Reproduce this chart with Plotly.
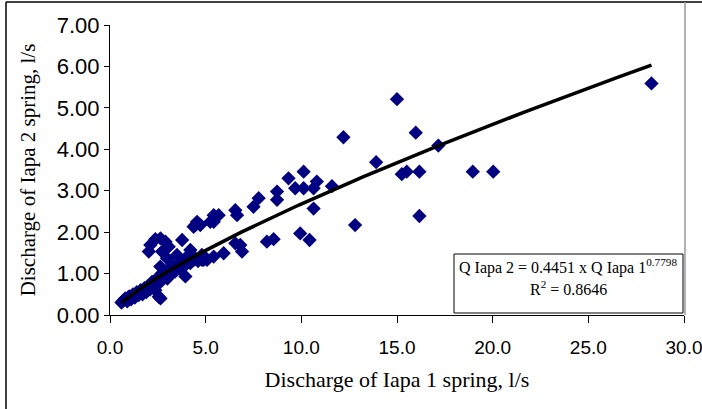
import numpy as np
import plotly.graph_objects as go

# Observed discharges (l/s)
q_iapa1 = [0.6, 0.7, 0.8, 0.9, 1.0, 1.1, 1.2, 1.3, 1.4, 1.5, 1.6, 1.7, 1.8, 1.9, 2.0, 2.1,
           2.2, 2.3, 2.4, 2.5, 2.6, 2.7, 2.8, 2.9, 3.0, 3.1, 3.2, 3.3, 3.4, 3.5, 3.6, 3.7,
           3.8, 3.9, 4.0, 4.2, 4.4, 4.6, 4.8, 5.0,
           2.03, 2.11, 2.37, 2.64, 2.9, 3.07, 2.72, 2.37, 2.64, 2.55, 2.63, 2.98, 3.5, 4.2,
           3.77, 4.37, 4.55, 4.46, 3.85, 3.94, 4.03, 4.37, 4.89,
           5.42, 5.68, 5.42, 5.24, 4.72, 6.55, 6.64, 7.5, 7.77, 8.73, 8.73, 9.33,
           5.94, 5.42, 5.07, 4.81, 6.81, 6.9, 6.55, 8.2, 8.55, 9.94, 10.43,
           10.12, 9.68, 10.12, 10.64, 10.81, 11.6, 10.64, 12.81, 13.91, 12.2,
           15.0, 15.98, 17.16, 15.25, 15.51, 16.17, 18.96, 20.03, 16.17, 28.3]
q_iapa2 = [0.30, 0.35, 0.40, 0.33, 0.45, 0.38, 0.50, 0.42, 0.55, 0.48, 0.60, 0.50, 0.65, 0.55, 0.70, 0.62,
           0.80, 0.72, 0.85, 0.90, 0.78, 1.00, 0.95, 1.05, 0.88, 1.10, 1.00, 1.20, 1.05, 1.15, 1.25, 1.10,
           1.30, 1.20, 1.35, 1.25, 1.40, 1.30, 1.45, 1.38,
           1.53, 1.69, 1.83, 1.85, 1.77, 1.65, 1.53, 0.60, 0.40, 0.44, 1.17, 1.37, 1.45, 1.57,
           1.81, 2.13, 2.25, 2.17, 1.17, 0.93, 1.41, 1.33, 1.33,
           2.41, 2.41, 2.25, 2.25, 2.17, 2.53, 2.41, 2.61, 2.82, 2.98, 2.78, 3.30,
           1.49, 1.41, 1.33, 1.33, 1.69, 1.53, 1.73, 1.77, 1.83, 1.97, 1.81,
           3.46, 3.06, 3.06, 3.06, 3.22, 3.11, 2.57, 2.17, 3.69, 4.29,
           5.21, 4.40, 4.09, 3.40, 3.46, 3.46, 3.46, 3.46, 2.39, 5.59]

# Power trendline shown on the chart
coef_a = 0.4451
coef_b = 0.7798

x_ticks = [0, 5, 10, 15, 20, 25, 30]
y_ticks = [0, 1, 2, 3, 4, 5, 6, 7]

xt = np.linspace(min(q_iapa1), max(q_iapa1), 200)
yt = coef_a * xt ** coef_b

fig = go.Figure()
fig.add_trace(go.Scatter(x=q_iapa1, y=q_iapa2, mode="markers",
                         marker=dict(symbol="diamond", size=11, color="#000080",
                                     line=dict(width=0)),
                         showlegend=False))
fig.add_trace(go.Scatter(x=xt, y=yt, mode="lines",
                         line=dict(color="black", width=3.5), showlegend=False))

W, H = 702, 409
L, R, T, B = 110, 18, 25, 94
pw, ph = W - L - R, H - T - B

def px(x):
    return (x - L) / pw

def py(y):
    return (H - B - y) / ph

shapes = [
    # outer frame
    dict(type="line", xref="paper", yref="paper", x0=px(6), x1=px(702), y0=py(2), y1=py(2),
         line=dict(color="black", width=1.5)),
    dict(type="line", xref="paper", yref="paper", x0=px(6), x1=px(6), y0=py(2), y1=py(409),
         line=dict(color="black", width=1.5)),
    dict(type="line", xref="paper", yref="paper", x0=px(685), x1=px(685), y0=py(2), y1=py(315),
         line=dict(color="#999999", width=1.5)),
    # equation box
    dict(type="rect", xref="paper", yref="paper", x0=px(454), x1=px(683), y0=py(254), y1=py(313),
         line=dict(color="black", width=1), fillcolor="white", layer="above"),
]

annotations = [
    dict(xref="paper", yref="paper", x=px(568), y=py(266), showarrow=False,
         xanchor="center", yanchor="middle",
         text="Q Iapa 2 = 0.4451 x Q Iapa 1<sup>0.7798</sup>",
         font=dict(family="Liberation Serif", size=16, color="black")),
    dict(xref="paper", yref="paper", x=px(568), y=py(288), showarrow=False,
         xanchor="center", yanchor="middle",
         text="R<sup>2</sup> = 0.8646",
         font=dict(family="Liberation Serif", size=16, color="black")),
]

fig.update_layout(
    width=W, height=H,
    margin=dict(l=L, r=R, t=T, b=B),
    paper_bgcolor="white", plot_bgcolor="white",
    shapes=shapes, annotations=annotations,
    xaxis=dict(range=[0, 30], tickvals=x_ticks, ticktext=[f"{v:.1f}" for v in x_ticks],
               automargin=False, ticklabeloverflow="allow",
               showgrid=False, zeroline=False, showline=True, linecolor="black", linewidth=1,
               ticks="outside", ticklen=7, tickcolor="black", ticklabelstandoff=8,
               tickfont=dict(family="Liberation Sans", size=19, color="black"),
               title=dict(text="Discharge of Iapa 1 spring, l/s", standoff=14,
                          font=dict(family="Liberation Serif", size=22, color="black"))),
    yaxis=dict(range=[0, 7], tickvals=y_ticks, ticktext=[f"{v:.2f}" for v in y_ticks],
               automargin=False, ticklabeloverflow="allow",
               showgrid=False, zeroline=False, showline=True, linecolor="black", linewidth=1,
               ticks="outside", ticklen=5, tickcolor="black",
               tickfont=dict(family="Liberation Sans", size=22, color="black"),
               title=dict(text="Discharge of Iapa 2 spring, l/s", standoff=15,
                          font=dict(family="Liberation Serif", size=21, color="black"))),
)

fig.write_html("out.html")
